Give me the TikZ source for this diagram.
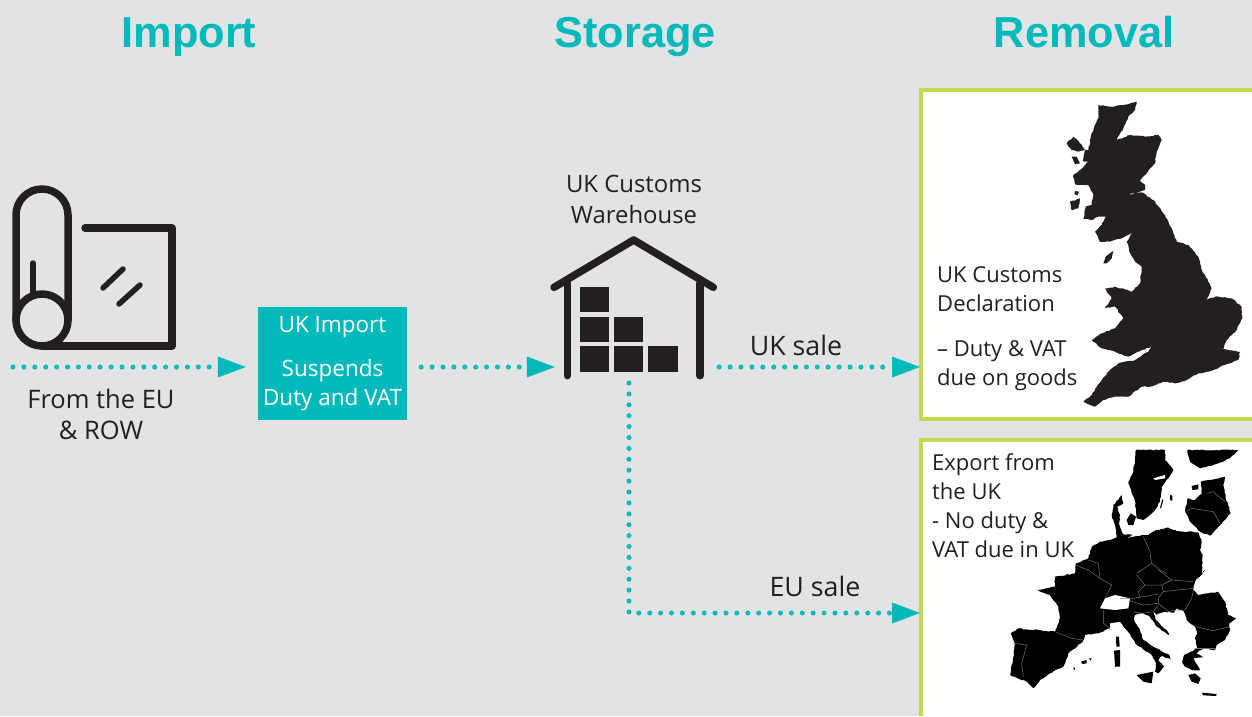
\documentclass[tikz,border=0pt]{standalone}
\usepackage{fontspec}
\setmainfont{Open Sans}
\newfontfamily\titlefont{Liberation Sans}
\usetikzlibrary{arrows.meta,calc,decorations.pathmorphing}
\definecolor{bgc}{HTML}{E1E3E5}
\definecolor{teal}{HTML}{00B9BA}
\definecolor{ink}{HTML}{231F20}
\definecolor{lime}{HTML}{C4D94E}
\tikzset{
 x=1pt,y=-1pt,
 titletext/.style={text=teal,font=\titlefont\bfseries\fontsize{43.3}{43}\selectfont,inner sep=0pt,anchor=base},
 label/.style={text=ink,font=\fontsize{25.5}{31}\selectfont,align=center,inner sep=0pt},
 salelabel/.style={text=ink,font=\fontsize{26.8}{31}\selectfont,inner sep=0pt},
 boxlabel/.style={text=ink,font=\fontsize{22}{29}\selectfont,align=left,inner sep=0pt,anchor=north west},
 flow/.style={draw=teal,line width=5pt,line cap=round,dash pattern=on 0pt off 10.9pt,-{Triangle[length=28pt,width=21pt,fill=teal,line width=0pt]}},
 icon/.style={draw=ink,line width=7.5pt,line cap=round,line join=round},
 iconthin/.style={draw=ink,line width=5.5pt,line cap=round},
 crate/.style={fill=ink,draw=none},
 frame/.style={draw=lime,line width=4pt},
 panel/.style={fill=white,draw=none,inner sep=0pt,anchor=north west},
 zoomed/.style={x=1pt/3,y=-1pt/3},
 border/.style={draw=black!55!white,line width=0.5pt},
 rugged/.style={decoration={random steps,segment length=2.5pt,amplitude=0.55pt},decorate},
}
\begin{document}
\begin{tikzpicture}
\path[use as bounding box,fill=bgc] (0,0) rectangle (1252,716);
% titles
\node[titletext] (t1) at (189,47) {Import};
\node[titletext] (t2) at (635,47) {Storage};
\node[titletext] (t3) at (1084,47) {Removal};
% panels
\node[panel,minimum width=332pt,minimum height=331pt] (ukpanel) at (920,88) {};
\draw[frame] (1252,89.5) -- (921,89.5) -- (921,418.5) -- (1252,418.5);
\node[panel,minimum width=332pt,minimum height=276pt] (eupanel) at (920,440) {};
\draw[frame] (1252,440) -- (921,440) -- (921,716);
% roll icon
\begin{scope}
\draw[icon] (16,320) -- (16,215) arc[start angle=180,end angle=360,radius=26] -- (68,320);
\draw[icon] (42,320) circle[radius=26];
\draw[icon] (42,346) -- (172,346) -- (172,228) -- (85,228);
\draw[iconthin] (33,263) -- (33,292);
\draw[iconthin] (103,288) -- (123,269);
\draw[iconthin] (119,304) -- (140,285);
\end{scope}
% warehouse icon
\begin{scope}[shift={(540,160)},zoomed]
\draw[icon] (42,382) -- (281,240) -- (520,382);
\draw[icon] (82,370) -- (82,647);
\draw[icon] (480,370) -- (480,647);
\fill[crate] (120,380) rectangle (208,457);
\fill[crate] (120,470) rectangle (208,547);
\fill[crate] (222,470) rectangle (310,547);
\fill[crate] (120,558) rectangle (208,635);
\fill[crate] (222,558) rectangle (310,635);
\fill[crate] (325,558) rectangle (413,635);
\end{scope}
\node[minimum width=164pt,minimum height=140pt,inner sep=0pt] (wh) at (637,309) {};
% import box
\node[fill=teal,minimum width=149pt,minimum height=113pt,inner sep=0pt] (imp) at (332.5,363.5) {};
\node[text=white,font=\fontsize{22.5}{29}\selectfont,align=center,inner sep=0pt] (imptext) at (332.5,364) {UK Import\\[15pt]Suspends\\Duty and VAT};
% UK map
\begin{scope}[shift={(915,85)},zoomed]
\fill[ink,rugged] (550,60) -- (585,65) -- (625,60) -- (665,50) -- (660,75) -- (640,95) -- (625,130) -- (605,165) -- (645,150) -- (690,155) -- (730,150) -- (740,165) -- (725,200) -- (720,235) -- (695,265) -- (675,288) -- (690,300) -- (690,315) -- (660,325) -- (635,330) -- (680,322) -- (715,345) -- (745,385) -- (760,410) -- (775,445) -- (785,470) -- (820,480) -- (850,515) -- (860,555) -- (870,570) -- (890,610) -- (875,645) -- (900,635) -- (950,640) -- (980,665) -- (982,700) -- (965,735) -- (935,765) -- (925,792) -- (975,800) -- (970,825) -- (930,840) -- (880,860) -- (850,865) -- (815,885) -- (780,895) -- (745,890) -- (705,905) -- (680,905) -- (640,935) -- (600,935) -- (565,945) -- (540,965) -- (505,950) -- (530,930) -- (545,905) -- (580,860) -- (610,835) -- (660,825) -- (700,800) -- (710,785) -- (680,795) -- (640,815) -- (600,800) -- (560,790) -- (530,765) -- (560,745) -- (600,730) -- (625,700) -- (600,665) -- (570,670) -- (590,640) -- (570,610) -- (600,605) -- (650,620) -- (675,595) -- (680,545) -- (660,530) -- (645,505) -- (635,470) -- (655,440) -- (620,460) -- (585,470) -- (555,470) -- (540,440) -- (560,420) -- (572,395) -- (550,395) -- (530,405) -- (505,402) -- (512,365) -- (530,360) -- (535,330) -- (520,300) -- (495,300) -- (480,298) -- (475,270) -- (495,255) -- (520,230) -- (505,230) -- (510,195) -- (520,195) -- (530,145) -- (550,100) -- cycle;
\fill[ink] (565,535) -- (572,515) -- (595,497) -- (590,520) -- (575,535) -- cycle;
\fill[ink,rugged] (455,175) -- (475,155) -- (495,175) -- (510,195) -- (490,200) -- (470,195) -- cycle;
\fill[ink,rugged] (465,350) -- (495,340) -- (490,370) -- (470,375) -- cycle;
\fill[ink] (470,215) -- (485,215) -- (495,235) -- (480,238) -- cycle;
\fill[ink] (480,318) -- (492,320) -- (488,330) -- (478,328) -- cycle;
\end{scope}
% Europe map
\begin{scope}[shift={(915,430)},zoomed]
\fill[black,rugged] (663,60) -- (750,60) -- (750,90) -- (775,120) -- (760,145) -- (740,170) -- (735,215) -- (715,245) -- (685,270) -- (665,265) -- (660,215) -- (640,160) -- (655,125) -- (660,90) -- cycle;
\fill[white] (715,145) -- (750,135) -- (750,145) -- (720,150) -- cycle;
\fill[black,rugged] (817,60) -- (970,60) -- (945,85) -- (895,105) -- (855,115) -- (825,95) -- cycle;
\fill[black,rugged] (857,155) -- (930,140) -- (925,165) -- (932,205) -- (947,250) -- (920,280) -- (885,317) -- (855,305) -- (825,275) -- (810,245) -- (817,205) -- (840,210) -- (860,190) -- cycle;
\fill[black,rugged] (620,195) -- (625,220) -- (607,230) -- (615,255) -- (613,285) -- (625,313) -- (655,315) -- (635,325) -- (605,325) -- (600,285) -- (590,255) -- (595,225) -- cycle;
\fill[black] (635,270) -- (647,250) -- (663,260) -- (655,285) -- (640,285) -- cycle;
\fill[black] (765,195) -- (772,197) -- (772,212) -- (765,210) -- cycle;
\fill[black] (745,210) -- (738,235) -- (735,233) -- (742,208) -- cycle;
\fill[black] (830,168) -- (850,163) -- (850,178) -- (832,180) -- cycle;
\fill[black,rugged] (585,330) -- (625,315) -- (635,325) -- (685,315) -- (700,315) -- (725,300) -- (760,293) -- (785,303) -- (850,307) -- (860,335) -- (855,360) -- (863,375) -- (860,430) -- (870,420) -- (840,455) -- (835,480) -- (850,495) -- (910,485) -- (930,515) -- (940,555) -- (963,565) -- (943,580) -- (945,600) -- (930,630) -- (905,645) -- (900,660) -- (865,655) -- (843,670) -- (865,682) -- (835,685) -- (855,720) -- (830,720) -- (810,710) -- (802,700) -- (807,675) -- (847,655) -- (840,625) -- (847,610) -- (840,590) -- (815,570) -- (807,545) -- (785,535) -- (777,548) -- (750,545) -- (725,555) -- (715,545) -- (722,570) -- (763,610) -- (760,615) -- (725,590) -- (705,560) -- (685,550) -- (660,555) -- (657,570) -- (675,600) -- (685,630) -- (725,655) -- (763,675) -- (767,688) -- (740,678) -- (730,690) -- (747,710) -- (730,730) -- (720,725) -- (723,700) -- (705,670) -- (665,645) -- (635,600) -- (615,575) -- (585,580) -- (585,595) -- (550,610) -- (510,615) -- (503,635) -- (460,670) -- (445,710) -- (405,730) -- (375,750) -- (355,775) -- (335,755) -- (285,735) -- (295,680) -- (300,640) -- (287,610) -- (310,595) -- (420,605) -- (435,565) -- (430,530) -- (405,495) -- (367,480) -- (420,470) -- (420,440) -- (480,430) -- (483,400) -- (520,385) -- (530,350) -- (555,335) -- cycle;
\fill[black] (820,735) -- (840,730) -- (857,745) -- (850,762) -- (830,755) -- cycle;
\fill[white] (555,535) -- (570,505) -- (600,495) -- (645,505) -- (640,535) -- (600,540) -- cycle;
\fill[black] (603,620) -- (612,620) -- (614,650) -- (604,650) -- cycle;
\fill[black] (597,662) -- (615,660) -- (615,710) -- (600,710) -- cycle;
\fill[black] (665,735) -- (715,725) -- (710,760) -- (685,755) -- cycle;
\fill[black] (860,788) -- (905,792) -- (903,798) -- (865,796) -- cycle;
\fill[black] (498,695) -- (515,690) -- (515,700) -- (502,702) -- cycle;
\fill[black] (522,684) -- (530,686) -- (526,692) -- cycle;
\fill[black] (475,712) -- (481,714) -- (477,722) -- cycle;
\end{scope}
\begin{scope}[shift={(1110,570)},zoomed]
\draw[border] (80,15) -- (105,45) -- (85,65) -- (90,82) -- (65,85) -- (30,85);
\draw[border] (105,45) -- (155,45) -- (185,30) -- (145,0);
\draw[border] (155,45) -- (160,65) -- (145,85) -- (145,100) -- (175,125) -- (195,120) -- (225,120) -- (245,85) -- (250,60);
\draw[border] (160,65) -- (250,55);
\draw[border] (185,30) -- (250,35);
\draw[border] (90,82) -- (145,72);
\draw[border] (60,92) -- (100,105) -- (145,100);
\draw[border] (72,125) -- (100,130) -- (130,125) -- (145,105);
\draw[border] (255,170) -- (310,182) -- (358,170);
\draw[border] (255,235) -- (315,235);
\end{scope}
\begin{scope}[shift={(1110,445)},zoomed]
\draw[border] (100,275) -- (120,320) -- (125,355) -- (80,385);
\draw[border] (125,355) -- (150,375) -- (170,385);
\draw[border] (290,145) -- (310,140) -- (345,170);
\draw[border] (225,200) -- (245,190) -- (310,200) -- (330,235);
\end{scope}
\begin{scope}[shift={(1000,530)},zoomed]
\draw[border] (165,305) -- (215,325) -- (250,330);
\draw[border] (40,340) -- (80,345) -- (65,400) -- (70,440);
\draw[border] (225,105) -- (265,120) -- (300,145);
\draw[border] (265,90) -- (295,100) -- (300,145);
\draw[border] (300,145) -- (335,165) -- (315,205);
\draw[border] (310,240) -- (310,280) -- (330,295);
\end{scope}
% text labels
\node[label] (srclab) at (101,414) {From the EU\\\& ROW};
\node[label,font=\fontsize{23.9}{31}\selectfont] (whlab) at (634,199.5) {UK Customs\\Warehouse};
\node[salelabel] (uksale) at (796,345) {UK sale};
\node[salelabel] (eusale) at (815,586) {EU sale};
\node[boxlabel] (uktext) at (937,266) {UK Customs\\Declaration\\[16pt]– Duty \& VAT\\due on goods};
\node[boxlabel] (extext) at (932,453) {Export from\\the UK\\- No duty \&\\VAT due in UK};
% connectors
\coordinate (src) at (13,367);
\coordinate (drop) at (629,383);
\coordinate (corner) at (629,613);
\draw[flow,shorten >=12pt] (src) -- (src -| imp.west);
\draw[flow,shorten <=14pt] (src -| imp.east) -- (src -| wh.west);
\draw[flow] (src -| wh.east) -- (src -| ukpanel.west);
\draw[flow] (drop) -- (corner) -- (corner -| eupanel.west);
\end{tikzpicture}
\end{document}
